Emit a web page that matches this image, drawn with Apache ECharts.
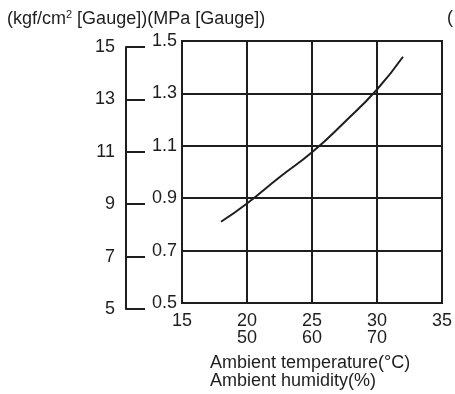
<!DOCTYPE html>
<html>
<head>
<meta charset="utf-8">
<script src="https://cdn.jsdelivr.net/npm/echarts@6/dist/echarts.min.js"></script>
<style>
  html, body { margin: 0; padding: 0; background: #fff; }
  #chart { width: 455px; height: 394px; }
</style>
</head>
<body>
<div id="chart"></div>
<script>
  // ambient temperature (°C) and pressure (MPa gauge)
  const temperature = [18, 20, 22.5, 25, 27.5, 30, 32];
  const pressure = [0.81, 0.88, 0.98, 1.075, 1.19, 1.315, 1.44];
  // humidity labels written under the temperature ticks
  const humidityAt = {20: '50', 25: '60', 30: '70'};

  const font = 'Liberation Sans, Arial, sans-serif';
  const ink = '#1e1e1e';
  const size = 18;

  let chart = echarts.init(document.getElementById('chart'));

  let option = {
    animation: false,
    textStyle: {fontFamily: font},
    grid: [
      {left: 182, right: 11, top: 41, bottom: 91, show: true, borderColor: ink, borderWidth: 2},
      {left: 126, width: 20, top: 47, bottom: 85}
    ],
    xAxis: [
      {
        gridIndex: 0,
        type: 'value',
        min: 15,
        max: 35,
        interval: 5,
        axisLine: {show: true, lineStyle: {color: ink, width: 2}},
        axisTick: {show: false},
        splitLine: {show: true, lineStyle: {color: ink, width: 2}},
        axisLabel: {
          color: ink,
          fontSize: size,
          lineHeight: 17,
          margin: 10,
          formatter: v => humidityAt[v] ? v + '\n' + humidityAt[v] : String(v)
        }
      },
      {gridIndex: 1, type: 'value', show: false}
    ],
    yAxis: [
      {
        gridIndex: 0,
        type: 'value',
        min: 0.5,
        max: 1.5,
        interval: 0.2,
        axisLine: {show: true, lineStyle: {color: ink, width: 2}},
        axisTick: {show: false},
        splitLine: {show: true, lineStyle: {color: ink, width: 2}},
        axisLabel: {
          color: ink,
          fontSize: size,
          margin: 5,
          padding: [0, 0, 5, 0],
          formatter: v => v.toFixed(1)
        }
      },
      {
        gridIndex: 1,
        type: 'value',
        position: 'left',
        min: 5,
        max: 15,
        interval: 2,
        axisLine: {show: true, lineStyle: {color: ink, width: 2}},
        axisTick: {show: true, inside: true, length: 19, lineStyle: {color: ink, width: 2}},
        splitLine: {show: false},
        axisLabel: {color: ink, fontSize: size, margin: 11}
      }
    ],
    graphic: [
      {
        type: 'text',
        left: 7,
        top: 9,
        style: {
          text: '(kgf/cm{sup|2} [Gauge])(MPa [Gauge])',
          fill: ink,
          font: size + 'px ' + font,
          rich: {sup: {fontSize: 11, verticalAlign: 'top', padding: [0, 0, 9, 0]}}
        }
      },
      {
        type: 'text',
        left: 447,
        top: 9,
        style: {text: '(', fill: ink, font: size + 'px ' + font}
      },
      {
        type: 'text',
        left: 210,
        top: 354,
        style: {
          text: 'Ambient temperature(°C)\nAmbient humidity(%)',
          fill: ink,
          font: size + 'px ' + font,
          lineHeight: 18
        }
      }
    ],
    series: [
      {
        type: 'line',
        xAxisIndex: 0,
        yAxisIndex: 0,
        smooth: true,
        showSymbol: false,
        lineStyle: {color: ink, width: 2},
        data: temperature.map((t, i) => [t, pressure[i]])
      }
    ]
  };

  chart.setOption(option);
</script>
</body>
</html>
